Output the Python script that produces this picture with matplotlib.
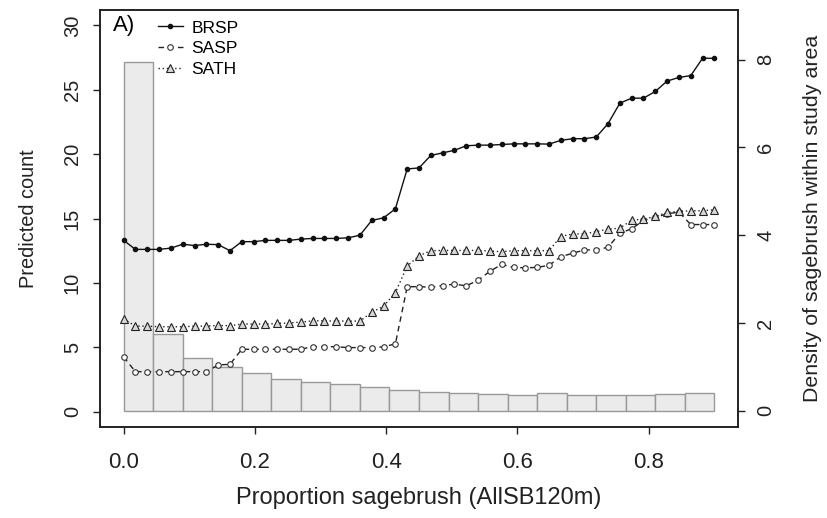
import numpy as np
import matplotlib
matplotlib.use("Agg")
import matplotlib.pyplot as plt

plt.rcParams['font.family'] = ['Liberation Sans', 'DejaVu Sans']

# proportion of sagebrush (51 evaluation points, 0 to 0.9)
prop = np.linspace(0, 0.9, 51)

brsp = [13.3, 12.6, 12.6, 12.6, 12.7, 13.0, 12.9, 13.0, 12.97, 12.5,
        13.2, 13.2, 13.3, 13.3, 13.3, 13.4, 13.45, 13.45, 13.45, 13.5,
        13.7, 14.85, 15.05, 15.75, 18.85, 18.93, 19.9, 20.1, 20.3, 20.65,
        20.7, 20.7, 20.75, 20.8, 20.8, 20.8, 20.78, 21.07, 21.2, 21.2,
        21.33, 22.37, 23.96, 24.35, 24.35, 24.87, 25.68, 25.96, 26.1, 27.45,
        27.45]
sasp = [4.24, 3.1, 3.1, 3.1, 3.1, 3.1, 3.1, 3.1, 3.62, 3.67,
        4.84, 4.84, 4.84, 4.84, 4.84, 4.84, 5.05, 5.05, 5.03, 4.97,
        4.97, 4.97, 5.03, 5.26, 9.69, 9.71, 9.65, 9.79, 9.9, 9.77,
        10.2, 10.9, 11.43, 11.2, 11.17, 11.2, 11.36, 12.03, 12.3, 12.55,
        12.58, 12.76, 13.86, 14.2, 14.85, 15.1, 15.36, 15.5, 14.53, 14.53,
        14.53]
sath = [7.21, 6.64, 6.64, 6.59, 6.59, 6.59, 6.64, 6.64, 6.69, 6.67,
        6.8, 6.8, 6.8, 6.85, 6.88, 6.95, 7.05, 7.05, 7.03, 7.03,
        7.03, 7.71, 8.18, 9.24, 11.3, 12.1, 12.5, 12.52, 12.52, 12.52,
        12.52, 12.47, 12.42, 12.5, 12.5, 12.5, 12.5, 13.6, 13.8, 13.8,
        13.98, 14.17, 14.25, 14.87, 14.95, 15.16, 15.47, 15.55, 15.6, 15.6,
        15.68]

# histogram of sagebrush proportion (density)
bin_edges = np.linspace(0, 0.9, 21)
density = [7.95, 1.74, 1.21, 1.0, 0.85, 0.72, 0.65, 0.60, 0.53, 0.48,
           0.43, 0.40, 0.38, 0.37, 0.40, 0.37, 0.37, 0.35, 0.38, 0.40]

fig = plt.figure(figsize=(8.27, 5.18), dpi=100)
ax = fig.add_axes([100/827, 1 - 427/518, 638/827, 417/518])
ax2 = ax.twinx()
ax.set_zorder(ax2.get_zorder() + 1)
ax.patch.set_visible(False)

# histogram on right axis
ax2.bar(bin_edges[:-1], density, width=np.diff(bin_edges), align='edge',
        color='#ebebeb', edgecolor='#999999', linewidth=1.0)
ax2.set_ylim(-0.37, 9.13)
ax2.set_yticks([0, 2, 4, 6, 8])

# predicted counts on left axis
ax.plot(prop, brsp, color='#111111', lw=1.0, marker='o', ms=3,
        mfc='#111111', mec='#111111', label='BRSP')
ax.plot(prop, sasp, color='#222222', lw=1.0, ls=(0, (4, 3)), marker='o', ms=4,
        mfc='white', mec='#333333', mew=0.8, label='SASP')
ax.plot(prop, sath, color='#222222', lw=1.0, ls=(0, (1, 2)), marker='^', ms=5.5,
        mfc='#d8d8d8', mec='#222222', mew=0.8, label='SATH')

ax.set_xlim(-0.036, 0.936)
ax.set_ylim(-1.2, 31.2)
ax.set_xticks([0.0, 0.2, 0.4, 0.6, 0.8])
ax.set_xticklabels(['0.0', '0.2', '0.4', '0.6', '0.8'])
ax.set_yticks([0, 5, 10, 15, 20, 25, 30])

for a in (ax, ax2):
    for s in a.spines.values():
        s.set_linewidth(1.2)
        s.set_color('#222222')
ax.tick_params(axis='x', direction='out', length=5, width=1, pad=13, labelsize=16, colors='#222222')
ax.tick_params(axis='y', direction='out', length=5, width=1, pad=8, labelsize=14.5, colors='#222222')
ax2.tick_params(axis='y', direction='out', length=5, width=1, pad=8, labelsize=14.5, colors='#222222')
for lab in ax.get_yticklabels():
    lab.set_rotation(90)
    lab.set_va('center')
for lab in ax2.get_yticklabels():
    lab.set_rotation(90)
    lab.set_va('center')

ax.set_xlabel('Proportion sagebrush (AllSB120m)', fontsize=17, color='#222222', va='center')
ax.xaxis.set_label_coords(0.5, (427 - 498) / 417)
ax.set_ylabel('Predicted count', fontsize=14.4, color='#222222', va='center')
ax.yaxis.set_label_coords((28 - 100) / 638, 0.5)
ax2.set_ylabel('Density of sagebrush within study area', fontsize=15.4, color='#222222', va='center')
ax2.yaxis.set_label_coords((813 - 100) / 638, 0.5)

ax.text(0.02, 0.962, 'A)', transform=ax.transAxes, fontsize=16, va='center', ha='left')
ax.legend(loc='upper left', bbox_to_anchor=(0.075, 1.0), frameon=False, fontsize=12.5,
          handlelength=1.4, handletextpad=0.5, labelspacing=0.32, borderaxespad=0.2)

fig.savefig('out.png', dpi=100)
